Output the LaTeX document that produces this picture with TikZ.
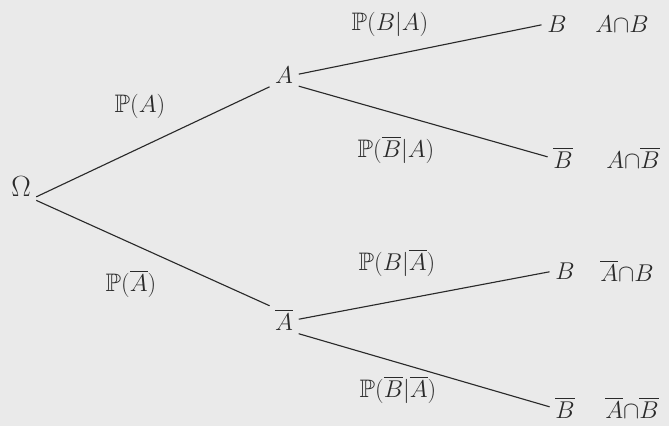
\documentclass[tikz,border=0pt]{standalone}
\usepackage{amsmath, amssymb}
\usepackage{xcolor}
\usetikzlibrary{positioning, calc}
\definecolor{trpaper}{HTML}{EAEAEA}
\definecolor{trink}{HTML}{2A2A2A}
\tikzset{
  lbl/.style={inner sep=1pt, text=trink, font=\fontsize{18pt}{21pt}\selectfont},
  brch/.style={draw=trink, line width=0.8pt, shorten <=3pt, shorten >=3pt}
}

\begin{document}
\begin{tikzpicture}[x=0.025cm, y=-0.025cm]
  \fill[trpaper] (0,0) rectangle (669,426);
  \useasboundingbox (0,0) rectangle (669,426);
  % tree nodes
  \node[lbl, font=\fontsize{21pt}{24pt}\selectfont] (om) at (21,187) {$\Omega$};
  \node[lbl] (a) at (284,75) {$A$};
  \node[lbl] (na) at (284,320) {$\overline{A}$};
  \node[lbl] (ab) at (557,24) {$B$};
  \node[lbl] (anb) at (563,158) {$\overline{B}$};
  \node[lbl] (nab) at (565,271) {$B$};
  \node[lbl] (nanb) at (565,408) {$\overline{B}$};
  % events
  \node[lbl] (e1) at (622,24) {$A{\cap}B$};
  \node[lbl] (e2) at (633,158) {$A{\cap}\overline{B}$};
  \node[lbl] (e3) at (627,271) {$\overline{A}{\cap}B$};
  \node[lbl] (e4) at (632,408) {$\overline{A}{\cap}\overline{B}$};
  % branches
  \draw[brch] (om.south east) -- (a.south west);
  \draw[brch] (om.south east) -- (na.north west);
  \draw[brch] (a.east) -- (ab.west);
  \draw[brch] (a.south east) -- (anb.west);
  \draw[brch] (na.east) -- (nab.west);
  \draw[brch] (na.south east) -- (nanb.west);
  % probabilities
  \node[lbl] (pa) at (140,106) {$\mathbb{P}(A)$};
  \node[lbl] (pna) at (131,284) {$\mathbb{P}(\overline{A})$};
  \node[lbl] (pba) at (390,24) {$\mathbb{P}(B|A)$};
  \node[lbl] (pnba) at (396,150) {$\mathbb{P}(\overline{B}|A)$};
  \node[lbl] (pbna) at (397,263) {$\mathbb{P}(B|\overline{A})$};
  \node[lbl] (pnbna) at (398,390) {$\mathbb{P}(\overline{B}|\overline{A})$};
\end{tikzpicture}
\end{document}
